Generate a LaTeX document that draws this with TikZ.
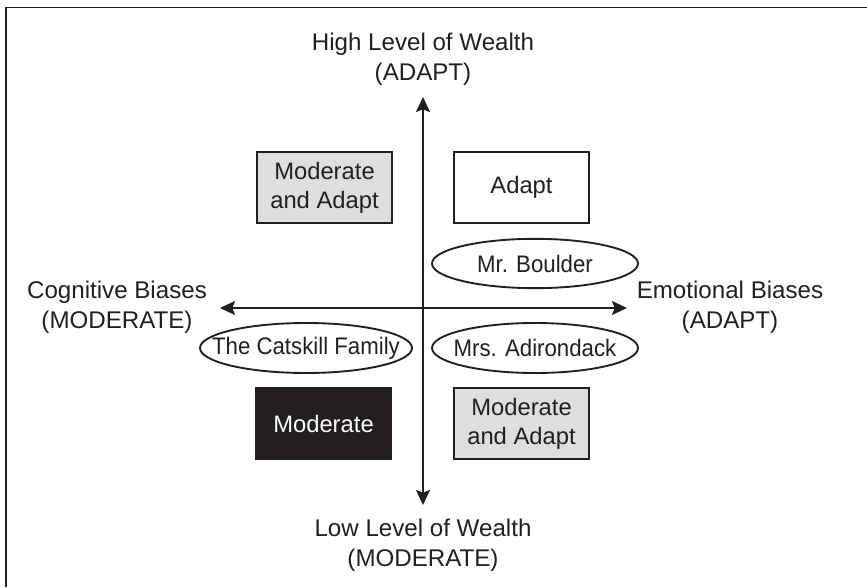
\documentclass[tikz,border=0pt]{standalone}
\usepackage{fontspec}
\setmainfont{Liberation Sans}
\newfontfamily\narrowsans[FakeStretch=0.93]{Liberation Sans}
\usepackage{tikz}
\usetikzlibrary{shapes,arrows.meta,positioning}
\definecolor{ink}{HTML}{231F20}
\definecolor{shade}{HTML}{DEDEDE}
\tikzstyle{box} = [rectangle, draw=ink, line width=1.6pt, text=ink,
    align=center, minimum width=4.05cm, minimum height=2.13cm, inner sep=0pt,
    font=\fontsize{20.3}{24.7}\selectfont]
\tikzstyle{box_gray} = [box, fill=shade]
\tikzstyle{box_dark} = [box, fill=ink, text=white]
\tikzstyle{person} = [text=ink, inner sep=0pt, font=\narrowsans\fontsize{20.4}{24}\selectfont]
\tikzstyle{oval} = [draw=ink, line width=1.6pt]
\tikzstyle{axislabel} = [text=ink, align=center, inner sep=0pt,
    font=\fontsize{20.6}{25.6}\selectfont]
\tikzstyle{axis} = [draw=ink, line width=1.6pt,
    {Stealth[length=0.45cm,width=0.42cm,inset=0.08cm]}-{Stealth[length=0.45cm,width=0.42cm,inset=0.08cm]}]
\begin{document}
\begin{tikzpicture}[x=0.03cm, y=-0.03cm]
    \useasboundingbox (0,0) rectangle (867,587);
    % frame
    \coordinate (frame_bl) at (6,587);
    \coordinate (frame_tr) at (867,7.5);
    \draw [ink, line width=1.6pt] (frame_bl) |- (frame_tr);

    % axes
    \coordinate (west) at (220,308);
    \coordinate (east) at (627,308);
    \coordinate (north) at (423,97);
    \coordinate (south) at (423,505);
    \path [axis] (west) -- (east);
    \path [axis] (south) -- (north);

    \node [axislabel] (high) at (423,59) {High Level of Wealth\\(ADAPT)};
    \node [axislabel] (low) at (423,545) {Low Level of Wealth\\(MODERATE)};
    \node [axislabel] (cognitive) at (117,307) {Cognitive Biases\\(MODERATE)};
    \node [axislabel] (emotional) at (730,307) {Emotional Biases\\(ADAPT)};

    % quadrants
    \node [box_gray] (modadapt_top) at (324.5,187.5) {Moderate\\and Adapt};
    \node [box] (adapt) at (521.5,187.5) {Adapt};
    \node [box_dark] (moderate) at (323.5,423.5) {Moderate};
    \node [box_gray] (modadapt_bottom) at (521.5,423.5) {Moderate\\and Adapt};

    % clients
    \node [person] (boulder) at (535,263.5) {Mr. Boulder};
    \node [person] (adirondack) at (535,348) {Mrs. Adirondack};
    \node [person] (catskill) at (306,348) {The Catskill Family};
    \draw [oval] (boulder) ellipse [x radius=3.09cm, y radius=0.74cm];
    \draw [oval] (adirondack) ellipse [x radius=3.09cm, y radius=0.75cm];
    \draw [oval] (catskill) ellipse [x radius=3.18cm, y radius=0.75cm];
\end{tikzpicture}
\end{document}
